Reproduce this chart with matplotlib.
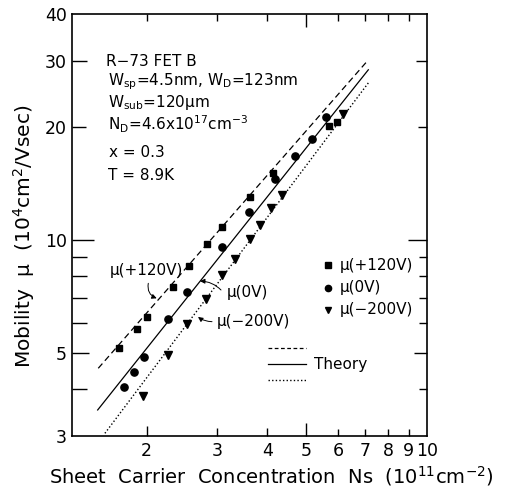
import matplotlib
matplotlib.use('Agg')
import matplotlib.pyplot as plt
from matplotlib.ticker import FixedLocator, FixedFormatter, NullLocator

# ---- data ----
ns_p120 = [1.709, 1.888, 2.007, 2.322, 2.555, 2.833, 3.088, 3.620, 4.138, 5.706, 5.954]
mu_p120 = [5.16, 5.78, 6.24, 7.47, 8.54, 9.74, 10.85, 12.99, 15.06, 20.09, 20.57]
ns_0 = [1.759, 1.859, 1.972, 2.256, 2.528, 3.083, 3.606, 4.178, 4.687, 5.182, 5.600]
mu_0 = [4.06, 4.44, 4.88, 6.15, 7.24, 9.58, 11.89, 14.54, 16.74, 18.58, 21.23]
ns_m200 = [1.958, 2.256, 2.528, 2.812, 3.086, 3.315, 3.620, 3.833, 4.076, 4.342, 6.163]
mu_m200 = [3.83, 4.93, 5.97, 6.95, 8.04, 8.91, 10.04, 10.96, 12.14, 13.18, 21.63]

theory_p120_ns = [1.515, 7.14]
theory_p120_mu = [4.546, 30.18]
theory_0_ns = [1.510, 7.14]
theory_0_mu = [3.52, 28.4]
theory_m200_ns = [1.574, 7.14]
theory_m200_mu = [3.05, 26.2]

xtick_vals = [2, 3, 4, 5, 6, 7, 8, 9, 10]
xtick_labels = ['2', '3', '4', '5', '6', '7', '8', '9', '10']
ytick_vals = [3, 4, 5, 6, 7, 8, 9, 10, 20, 30, 40]
ytick_labels = ['3', '', '5', '', '', '', '', '10', '20', '30', '40']

# ---- figure ----
fig = plt.figure(figsize=(5.05, 4.92), dpi=100)
ax = fig.add_axes([72/505, 1-436/492, 355/505, 422/492])
ax.set_xscale('log')
ax.set_yscale('log')
ax.set_xlim(1.303, 10)
ax.set_ylim(3, 40)

for s in ax.spines.values():
    s.set_linewidth(1.2)

ax.plot(theory_p120_ns, theory_p120_mu, color='black', lw=0.9, ls=(0, (5, 3)))
ax.plot(theory_0_ns, theory_0_mu, color='black', lw=0.9, ls='-')
ax.plot(theory_m200_ns, theory_m200_mu, color='black', lw=1.0, ls=(0, (1, 1.6)))

ax.plot(ns_p120, mu_p120, ls='none', marker='s', ms=4.8, color='black')
ax.plot(ns_0, mu_0, ls='none', marker='o', ms=5.2, color='black')
ax.plot(ns_m200, mu_m200, ls='none', marker='v', ms=5.4, color='black')

ax.xaxis.set_major_locator(FixedLocator(xtick_vals))
ax.xaxis.set_major_formatter(FixedFormatter(xtick_labels))
ax.xaxis.set_minor_locator(NullLocator())
ax.yaxis.set_major_locator(FixedLocator(ytick_vals))
ax.yaxis.set_major_formatter(FixedFormatter(ytick_labels))
ax.yaxis.set_minor_locator(NullLocator())
ax.tick_params(which='major', direction='in', top=True, right=True,
               length=5, width=1.0, labelsize=12.5, pad=4)
ax.tick_params(axis='y', pad=3.5)

# per-tick lengths (points)
xb = [7, 6, 6, 9.5, 5, 5, 5, 5, 0]
xt = [5, 5, 5, 9, 5, 5, 5, 5, 0]
for t, a, b in zip(ax.xaxis.get_major_ticks(), xb, xt):
    t.tick1line.set_markersize(a)
    t.tick2line.set_markersize(b)
yl = [0, 10.5, 12, 10.5, 10.5, 10.5, 10.5, 16, 10, 10.5, 0]
yr = [0, 5.5, 9.5, 5.5, 5.5, 5.5, 5.5, 14, 6.5, 8, 0]
for t, a, b in zip(ax.yaxis.get_major_ticks(), yl, yr):
    t.tick1line.set_markersize(a)
    t.tick2line.set_markersize(b)

# ---- axis labels ----
fig.text(271/505, 1-476/492, 'Sheet  Carrier  Concentration  Ns  (10$^{11}$cm$^{-2}$)',
         ha='center', va='center', fontsize=14)
fig.text(24/505, 1-236/492, 'Mobility  \u03bc  (10$^{4}$cm$^{2}$/Vsec)',
         ha='center', va='center', fontsize=14.5, rotation=90)

# ---- parameter block ----
tf = 11
ax.text(0.0958, 0.887, 'R\u221273 FET B', transform=ax.transAxes, fontsize=tf, va='center')
ax.text(0.1014, 0.8318, 'W$_{\\mathregular{sp}}$=4.5nm, W$_{\\mathregular{D}}$=123nm', transform=ax.transAxes,
        fontsize=tf, va='baseline')
ax.text(0.1014, 0.7803, 'W$_{\\mathregular{sub}}$=120\u03bcm', transform=ax.transAxes,
        fontsize=tf, va='baseline')
ax.text(0.1014, 0.7235, 'N$_{\\mathregular{D}}$=4.6x10$^{\\mathregular{17}}$cm$^{\\mathregular{-3}}$',
        transform=ax.transAxes, fontsize=tf, va='baseline')
ax.text(0.104, 0.662, 'x = 0.3', transform=ax.transAxes, fontsize=tf, va='baseline')
ax.text(0.1014, 0.6066, 'T = 8.9K', transform=ax.transAxes, fontsize=tf, va='baseline')

# ---- curve labels with arrows ----
lf = 11
ax.text(0.107, 0.391, '\u03bc(+120V)', transform=ax.transAxes, fontsize=lf, va='center')
ax.text(0.4366, 0.339, '\u03bc(0V)', transform=ax.transAxes, fontsize=lf, va='center')
ax.text(0.4085, 0.2709, '\u03bc(\u2212200V)', transform=ax.transAxes, fontsize=lf, va='center')
ap = dict(arrowstyle='-|>', color='black', lw=0.7, mutation_scale=7, shrinkA=0, shrinkB=0)
ax.annotate('', xy=(0.2386, 0.3263), xytext=(0.2149, 0.3618), xycoords='axes fraction',
            arrowprops=dict(ap, connectionstyle='arc3,rad=0.4'))
ax.annotate('', xy=(0.3606, 0.3670), xytext=(0.4197, 0.3460), xycoords='axes fraction',
            arrowprops=dict(ap, connectionstyle='arc3,rad=0.2'))
ax.annotate('', xy=(0.3549, 0.2820), xytext=(0.3944, 0.2709), xycoords='axes fraction',
            arrowprops=dict(ap, connectionstyle='arc3,rad=-0.15'))

# ---- legend (hand placed) ----
ax.plot([0.722], [0.405], marker='s', ms=4, color='black', transform=ax.transAxes, clip_on=False)
ax.plot([0.722], [0.3514], marker='o', ms=4.5, color='black', transform=ax.transAxes, clip_on=False)
ax.plot([0.722], [0.2986], marker='v', ms=4.8, color='black', transform=ax.transAxes, clip_on=False)
ax.text(0.755, 0.405, '\u03bc(+120V)', transform=ax.transAxes, fontsize=lf, va='center')
ax.text(0.755, 0.3514, '\u03bc(0V)', transform=ax.transAxes, fontsize=lf, va='center')
ax.text(0.755, 0.2986, '\u03bc(\u2212200V)', transform=ax.transAxes, fontsize=lf, va='center')
ax.plot([0.553, 0.658], [0.2092, 0.2092], color='black', lw=0.9, ls=(0, (3, 2)), transform=ax.transAxes)
ax.plot([0.553, 0.658], [0.1706, 0.1706], color='black', lw=0.9, ls='-', transform=ax.transAxes)
ax.plot([0.553, 0.658], [0.1327, 0.1327], color='black', lw=1.0, ls=(0, (1, 1.6)), transform=ax.transAxes)
ax.text(0.6817, 0.1706, 'Theory', transform=ax.transAxes, fontsize=lf, va='center')

fig.savefig('out.png', dpi=100)
